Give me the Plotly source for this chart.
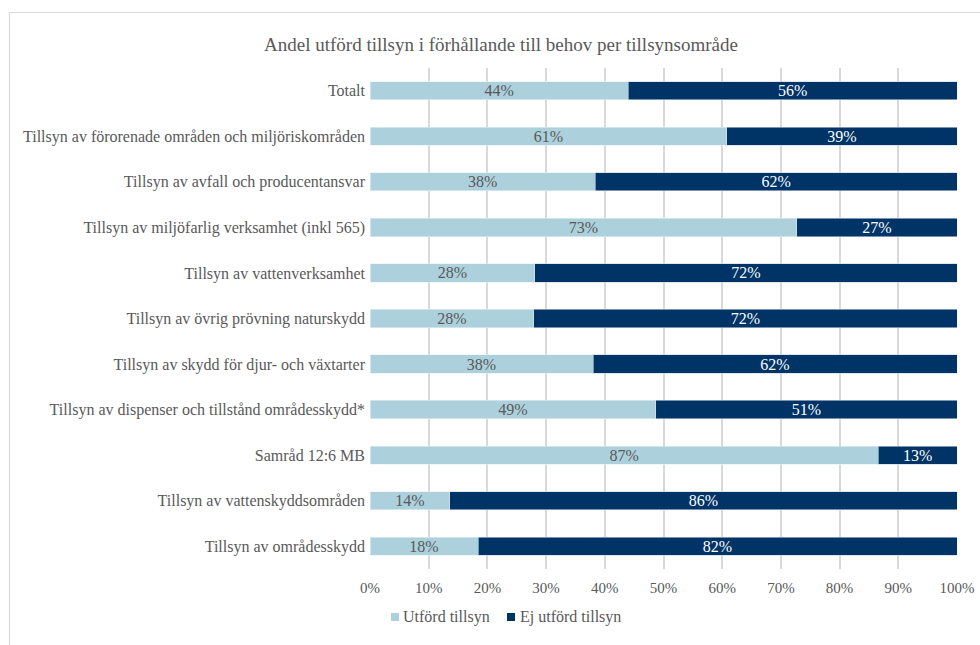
import plotly.graph_objects as go

# Categories (top to bottom) and shares in percent
categories = [
    "Totalt",
    "Tillsyn av förorenade områden och miljöriskområden",
    "Tillsyn av avfall och producentansvar",
    "Tillsyn av miljöfarlig verksamhet (inkl 565)",
    "Tillsyn av vattenverksamhet",
    "Tillsyn av övrig prövning naturskydd",
    "Tillsyn av skydd för djur- och växtarter",
    "Tillsyn av dispenser och tillstånd områdesskydd*",
    "Samråd 12:6 MB",
    "Tillsyn av vattenskyddsområden",
    "Tillsyn av områdesskydd",
]
utford = [44.0, 60.8, 38.4, 72.7, 28.1, 27.9, 38.0, 48.7, 86.6, 13.6, 18.4]
ej_utford = [56.0, 39.2, 61.6, 27.3, 71.9, 72.1, 62.0, 51.3, 13.4, 86.4, 81.6]
series_names = ["Utförd tillsyn", "Ej utförd tillsyn"]
tick_vals = [0, 10, 20, 30, 40, 50, 60, 70, 80, 90, 100]
tick_text = [f"{v}%" for v in tick_vals]

LIGHT = "#acd0dc"
DARK = "#003366"
GREY = "#595959"
FONT = "Liberation Serif"

W, H = 980, 645
L, R, T, B = 370, 23, 68, 76
PW, PH = W - L - R, H - T - B


def px_x(x):
    return (x - L) / PW


def px_y(y):
    return (H - B - y) / PH


fig = go.Figure()
for name, vals, color, edge, txt in [
    (series_names[0], utford, LIGHT, "#e8f1f5", GREY),
    (series_names[1], ej_utford, DARK, "#c9d6e3", "white"),
]:
    fig.add_trace(go.Bar(
        y=categories, x=vals, orientation="h", name=name,
        marker=dict(color=color, line=dict(color=edge, width=0.6)),
        texttemplate="%{x:.0f}%", textposition="inside", insidetextanchor="middle",
        textangle=0, constraintext="none",
        textfont=dict(family=FONT, size=16, color=txt),
        hoverinfo="skip", showlegend=False,
    ))

# Outer frame (top and left edges)
fig.add_shape(type="line", xref="paper", yref="paper",
              x0=px_x(9.5), x1=px_x(W + 2), y0=px_y(12.5), y1=px_y(12.5),
              line=dict(color="#d9d9d9", width=1.2))
fig.add_shape(type="line", xref="paper", yref="paper",
              x0=px_x(9.5), x1=px_x(9.5), y0=px_y(12.5), y1=px_y(H + 2),
              line=dict(color="#d9d9d9", width=1.2))

# Legend: small square keys followed by labels
legend_keys = [(391, 400.5, LIGHT), (507, 517.5, DARK)]
for (sq_x, txt_x, color), name in zip(legend_keys, series_names):
    fig.add_shape(type="rect", xref="paper", yref="paper",
                  x0=px_x(sq_x), x1=px_x(sq_x + 8), y0=px_y(621), y1=px_y(613),
                  fillcolor=color, line=dict(width=0))
    fig.add_annotation(text=name, xref="paper", yref="paper",
                       x=px_x(txt_x), y=px_y(617), xanchor="left", yanchor="middle",
                       showarrow=False, font=dict(family=FONT, size=16, color=GREY))

fig.update_layout(
    width=W, height=H,
    margin=dict(l=L, r=R, t=T, b=B, pad=0),
    paper_bgcolor="white", plot_bgcolor="white",
    barmode="stack", bargap=0.6,
    showlegend=False,
    font=dict(family=FONT, size=16, color=GREY),
    title=dict(text="Andel utförd tillsyn i förhållande till behov per tillsynsområde",
               xref="container", yref="container", x=501 / W, xanchor="center",
               y=1 - 44 / H, yanchor="middle",
               font=dict(family=FONT, size=19, color=GREY)),
    xaxis=dict(range=[0, 100], tickvals=tick_vals, ticktext=tick_text,
               showgrid=True, gridcolor="#d9d9d9", gridwidth=1.5,
               zeroline=False, showline=False, ticks="",
               automargin=False, ticklabelstandoff=8,
               tickfont=dict(family=FONT, size=15, color=GREY)),
    yaxis=dict(categoryorder="array", categoryarray=categories, autorange="reversed",
               showgrid=False, ticks="", showline=False, zeroline=False,
               automargin=False, ticklabelstandoff=4,
               tickfont=dict(family=FONT, size=16, color=GREY)),
)

fig.write_html("out.html")
